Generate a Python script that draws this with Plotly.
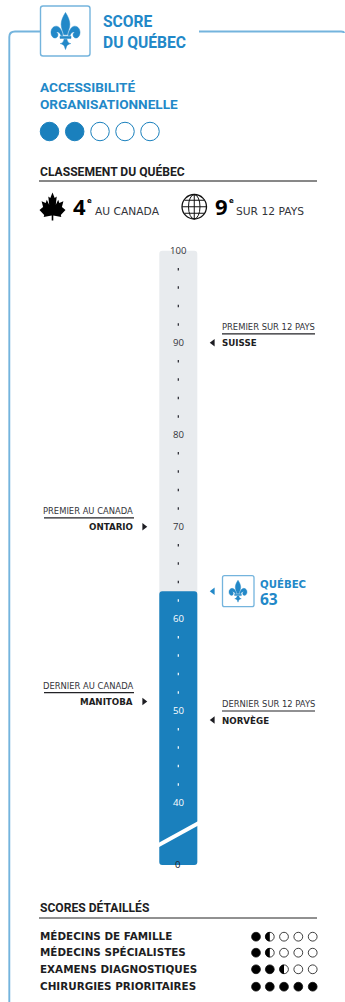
import re
import plotly.graph_objects as go

# Score scale: the bar is read on a 0-100 axis that is broken below 40
quebec_score = 63
axis_top = 100
major_ticks = [100, 90, 80, 70, 60, 50, 40]
minor_ticks = [98, 96, 94, 92, 88, 86, 84, 82, 78, 76, 74, 72, 68, 66, 64, 62, 58, 56, 54, 52, 48, 46, 44, 42]
zero_label = "0"

# Comparison jurisdictions
left_names = ["ONTARIO", "MANITOBA"]
left_values = [70, 51]
left_titles = ["PREMIER AU CANADA", "DERNIER AU CANADA"]
right_names = ["SUISSE", "NORVÈGE"]
right_values = [90, 49]
right_titles = ["PREMIER SUR 12 PAYS", "DERNIER SUR 12 PAYS"]

# Rating rows (out of five, half points allowed)
overall_rating = 2
detail_names = ["MÉDECINS DE FAMILLE", "MÉDECINS SPÉCIALISTES", "EXAMENS DIAGNOSTIQUES", "CHIRURGIES PRIORITAIRES"]
detail_ratings = [1.5, 1.5, 2.5, 5]

BLUE = "#1a80bd"
LINE_BLUE = "#74b4dd"
TEXT_BLUE = "#2288c8"
GREY = "#e8ebee"
DARK = "#1d1d22"
HEAD = "Roboto"
BODY = "DejaVu Sans"

W, H = 345, 1002
PX_PER_UNIT = 9.2
Y_100 = 250.8


def value_at(py):
    return 100 - (py - Y_100) / PX_PER_UNIT


def pixel_at(value):
    return Y_100 + (100 - value) * PX_PER_UNIT


BREAK_VALUE = value_at(865)
ZERO_VALUE = value_at(864.5)
BAR_X, BAR_W = 178.3, 38

FLEUR = (
    "M50,0 C41,11 35,22 35,32 C35,42 41,50 44,60 L56,60 C59,50 65,42 65,32 C65,22 59,11 50,0 Z "
    "M41,62 C38,48 29,37 18,37 C7,37 0,45 0,54 C0,63 7,69 14,69 C20,69 24,65 24,60 C24,56 21,53 17,54 "
    "C23,50 31,54 34,62 Z "
    "M59,62 C62,48 71,37 82,37 C93,37 100,45 100,54 C100,63 93,69 86,69 C80,69 76,65 76,60 C76,56 79,53 83,54 "
    "C77,50 69,54 66,62 Z "
    "M31,64 L69,64 L69,70 L31,70 Z "
    "M45,72 L55,72 C56,78 60,83 68,84 C60,86 56,88 54,91 L50,100 L46,91 C44,88 40,86 32,84 C40,83 44,78 45,72 Z"
)
MAPLE = [(0, 0), (.17, .2), (.32, .14), (.25, .44), (.44, .26), (.52, .37), (.84, .31), (.72, .52),
         (1, .62), (.64, .8), (.68, .88), (.06, .82), (.06, 1), (-.06, 1), (-.06, .82), (-.68, .88),
         (-.64, .8), (-1, .62), (-.72, .52), (-.84, .31), (-.52, .37), (-.44, .26), (-.25, .44),
         (-.32, .14), (-.17, .2)]


def place(path, x, y, size_x, size_y):
    """Scale a path drawn in a 100-unit box and move it to pixel position (x, y)."""
    nums = iter(range(10 ** 6))

    def swap(match):
        n = next(nums)
        v = float(match.group())
        return f"{x + v * size_x / 100:.2f}" if n % 2 == 0 else f"{y + v * size_y / 100:.2f}"

    return re.sub(r"-?\d+\.?\d*", swap, path)


shapes = []
labels = []


def shape(**kw):
    shapes.append(dict(xref="x", yref="y2", layer="above", **kw))


def path(d, fill=None, line=None, width=1):
    shape(type="path", path=d, fillcolor=fill or "rgba(0,0,0,0)", line=dict(color=line or "rgba(0,0,0,0)", width=width))


def rule(x0, x1, y, color=DARK, width=1):
    shape(type="line", x0=x0, x1=x1, y0=y, y1=y, line=dict(color=color, width=width))


def label(text, x, y, size, color=DARK, font=BODY, weight=400, anchor="left"):
    # Glyphs carry a little side bearing, so left-aligned text is nudged onto its margin
    nudged = x - 0.7 if anchor == "left" else x
    labels.append(dict(text=text, x=nudged, y=y, xref="x", yref="y2", xanchor=anchor, yanchor="middle",
                       showarrow=False, align=anchor, borderpad=0,
                       font=dict(family=font, size=size, color=color, weight=weight)))


def half_dot(cx, cy, r, color):
    k = 0.5523 * r
    path(f"M{cx},{cy - r} C{cx - k},{cy - r} {cx - r},{cy - k} {cx - r},{cy} "
         f"C{cx - r},{cy + k} {cx - k},{cy + r} {cx},{cy + r} Z", fill=color)


def rounded_box(x0, y0, x1, y1, r, color, width):
    path(f"M{x0 + r},{y0} L{x1 - r},{y0} Q{x1},{y0} {x1},{y0 + r} L{x1},{y1 - r} Q{x1},{y1} {x1 - r},{y1} "
         f"L{x0 + r},{y1} Q{x0},{y1} {x0},{y1 - r} L{x0},{y0 + r} Q{x0},{y0} {x0 + r},{y0} Z",
         line=color, width=width)


fig = go.Figure()

# Track and score bar share the broken axis
fig.add_bar(x=[BAR_X], y=[axis_top - BREAK_VALUE], base=[BREAK_VALUE], width=[BAR_W], marker_color=GREY,
            marker_line_width=0, hoverinfo="skip")
fig.add_bar(x=[BAR_X], y=[quebec_score - BREAK_VALUE], base=[BREAK_VALUE], width=[BAR_W], marker_color=BLUE,
            marker_line_width=0, hoverinfo="skip")

# Axis break across the bar
path(f"M{BAR_X - 20},{843} L{BAR_X + 20},{821} L{BAR_X + 20},{825.5} L{BAR_X - 20},{847.5} Z", fill="#ffffff")

# Small graduation marks
fig.add_scatter(x=[BAR_X] * len(minor_ticks), y=minor_ticks, mode="markers",
                marker=dict(symbol="line-ns", size=1.8,
                            line=dict(width=1.2,
                                      color=["#ffffff" if v < quebec_score else "#22222a" for v in minor_ticks])),
                hoverinfo="skip")

# Graduation labels
for v in major_ticks:
    labels.append(dict(text=str(v), x=BAR_X, y=v, xref="x", yref="y", showarrow=False, borderpad=0,
                       xanchor="center", yanchor="middle",
                       font=dict(family="Open Sans", size=9.6, weight=500,
                                 color="#ffffff" if v < quebec_score else "#33343a")))
labels.append(dict(text=zero_label, x=BAR_X, y=ZERO_VALUE, xref="x", yref="y", showarrow=False, borderpad=0,
                   xanchor="center", yanchor="middle", font=dict(family="Open Sans", size=9.6, color="#22232a")))

# Pointers towards the scale
fig.add_scatter(x=[144] * len(left_values), y=left_values, mode="markers",
                marker=dict(symbol="triangle-right", size=6.5, color=DARK), hoverinfo="skip")
fig.add_scatter(x=[213] * len(right_values), y=right_values, mode="markers",
                marker=dict(symbol="triangle-left", size=6.5, color=DARK), hoverinfo="skip")
fig.add_scatter(x=[213], y=[quebec_score], mode="markers",
                marker=dict(symbol="triangle-left", size=6.5, color=TEXT_BLUE), hoverinfo="skip")

# Comparison labels placed from their values
for name, value, title in zip(left_names, left_values, left_titles):
    py = pixel_at(value)
    label(title, 134, py - 16, 8.4, color="#33343a", anchor="right")
    rule(44, 134, py - 9, color="#222226", width=1.2)
    label(name, 134, py, 8.7, weight=700, anchor="right")
for name, value, title in zip(right_names, right_values, right_titles):
    py = pixel_at(value)
    label(title, 222, py - 16, 8.4, color="#33343a")
    rule(222, 315, py - 9, color="#222226", width=1.2)
    label(name, 222, py, 8.7, weight=700)

# Québec callout
qy = pixel_at(quebec_score)
rounded_box(222.5, qy - 15.5, 254, qy + 15.5, 2, LINE_BLUE, 1.3)
path(place(FLEUR, 229, qy - 11, 18, 22), fill=TEXT_BLUE, line=TEXT_BLUE, width=0.4)
label("QUÉBEC", 260, qy - 7, 10.2, color=TEXT_BLUE, weight=700)
label(str(quebec_score), 260, qy + 7.5, 15.5, color=TEXT_BLUE, font="Open Sans", weight=700)

# Panel outline and heading
path("M9.3,1002 L9.3,37 Q9.3,31.5 15,31.5 L40,31.5", line=LINE_BLUE, width=1.9)
path("M199,31.5 L341,31.5 Q344,31.5 344,33", line=LINE_BLUE, width=1.9)
rounded_box(40.5, 6, 90, 56, 2.5, LINE_BLUE, 1.4)
path(place(FLEUR, 51, 12.5, 29, 37), fill=TEXT_BLUE, line=TEXT_BLUE, width=0.5)
label("SCORE", 103, 22, 15.6, color=TEXT_BLUE, font=HEAD, weight=700)
label("DU QUÉBEC", 103, 42, 15.6, color=TEXT_BLUE, font=HEAD, weight=700)

label("ACCESSIBILITÉ", 40, 87, 13.6, color=TEXT_BLUE, font=HEAD, weight=700)
label("ORGANISATIONNELLE", 40, 104, 13.6, color=TEXT_BLUE, font=HEAD, weight=700)

# Overall rating dots
fig.add_scatter(x=[49.5, 74.7, 100, 125, 150], y=[value_at(131.5)] * 5, mode="markers",
                marker=dict(size=18.5, opacity=1,
                            color=[BLUE if i < overall_rating else "#ffffff" for i in range(5)],
                            line=dict(color=BLUE, width=1)), hoverinfo="skip")

# Ranking summary
label("CLASSEMENT DU QUÉBEC", 40, 171, 12.1, font=HEAD, weight=700)
rule(39, 317, 181, color="#111111", width=1)
maple_pts = " L".join(f"{52.5 + px * 13:.1f},{192.5 + py * 28:.1f}" for px, py in MAPLE)
path(f"M{maple_pts} Z", fill="#000000")
label("4", 73, 206, 22, color="#000000", font="Open Sans", weight=700)
label("e", 87, 200.5, 7, color="#000000", weight=700)
label("AU CANADA", 95, 211, 10.7, color="#33343a")

shape(type="circle", x0=182, x1=206.5, y0=194.5, y1=219, line=dict(color="#111111", width=1.3))
shape(type="circle", x0=188.5, x1=200, y0=194.5, y1=219, line=dict(color="#111111", width=1))
shape(type="line", x0=194.25, x1=194.25, y0=194.5, y1=219, line=dict(color="#111111", width=1))
for dy, half in [(-6.5, 9.8), (0, 12.2), (6.5, 9.8)]:
    shape(type="line", x0=194.25 - half, x1=194.25 + half, y0=206.75 + dy, y1=206.75 + dy,
          line=dict(color="#111111", width=1))
label("9", 215, 206, 22, color="#000000", font="Open Sans", weight=700)
label("e", 229, 200.5, 7, color="#000000", weight=700)
label("SUR 12 PAYS", 236, 211, 10.7, color="#33343a")

# Detailed scores
label("SCORES DÉTAILLÉS", 40, 907, 12.1, font=HEAD, weight=700)
rule(39, 317, 918, color="#222222", width=1)
row_ys = [936.7, 952.7, 969.3, 986.7]
dot_xs = [256, 269.8, 284, 298.3, 312.7]
for name, rating, ry in zip(detail_names, detail_ratings, row_ys):
    label(name, 40, ry - 0.5, 10.4, font=BODY, weight=700)
    fig.add_scatter(x=dot_xs, y=[value_at(ry)] * 5, mode="markers",
                    marker=dict(size=8.8, color=["#000000" if rating >= i + 1 else "#ffffff" for i in range(5)],
                                line=dict(color="#111111", width=0.8)),
                    hoverinfo="skip")
    for i, cx in enumerate(dot_xs):
        if i < rating < i + 1:
            half_dot(cx, ry, 4.6, "#000000")

fig.update_layout(
    width=W, height=H, margin=dict(l=0, r=0, t=0, b=0), autosize=False,
    paper_bgcolor="#ffffff", plot_bgcolor="#ffffff", showlegend=False, barmode="overlay",
    barcornerradius=3, shapes=shapes, annotations=labels,
    xaxis=dict(range=[0, W], visible=False, fixedrange=True),
    yaxis=dict(range=[value_at(H), value_at(0)], visible=False, fixedrange=True),
    yaxis2=dict(range=[H, 0], visible=False, overlaying="y", fixedrange=True),
)
fig.add_scatter(x=[0], y=[0], yaxis="y2", mode="markers", marker=dict(size=0.1, opacity=0), hoverinfo="skip")

fig.write_html("out.html", config=dict(displayModeBar=False))
